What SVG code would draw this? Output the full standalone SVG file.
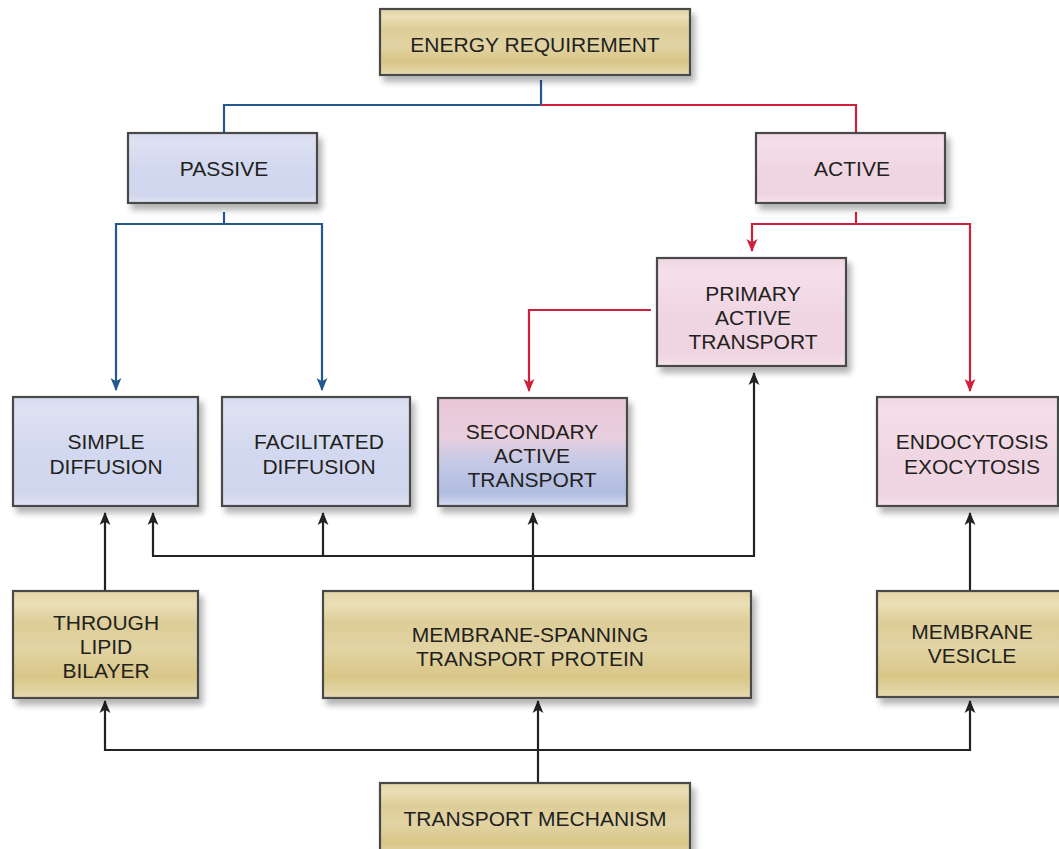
<svg xmlns="http://www.w3.org/2000/svg" width="1059" height="849" viewBox="0 0 1059 849">
<defs>
<style>
.box{stroke:#4a4a4a;stroke-width:2.2;filter:url(#sh)}
.tan{fill:url(#gTan)}
.blue{fill:url(#gBlue)}
.pink{fill:url(#gPink)}
.mix{fill:url(#gMix)}
text{font-family:"Liberation Sans",Arial,sans-serif;font-size:21px;fill:#231f20;text-anchor:middle}
.cb{fill:none;stroke:#25588f;stroke-width:2.2}
.cr{fill:none;stroke:#d1203c;stroke-width:2.2}
.ck{fill:none;stroke:#222;stroke-width:2.2}
</style>
<filter id="sh" x="-10%" y="-10%" width="125%" height="135%">
<feGaussianBlur in="SourceAlpha" stdDeviation="3"/>
<feOffset dx="4" dy="6" result="b"/>
<feComponentTransfer><feFuncA type="linear" slope="0.3"/></feComponentTransfer>
<feMerge><feMergeNode/><feMergeNode in="SourceGraphic"/></feMerge>
</filter>
<linearGradient id="gTan" x1="0" y1="0" x2="0" y2="1">
<stop offset="0" stop-color="#e2d4a6"/>
<stop offset="0.12" stop-color="#eadfb6"/>
<stop offset="0.3" stop-color="#ddcd98"/>
<stop offset="0.55" stop-color="#e1d3a3"/>
<stop offset="0.8" stop-color="#d9c687"/>
<stop offset="1" stop-color="#e6dab0"/>
</linearGradient>
<linearGradient id="gBlue" x1="0" y1="0" x2="0" y2="1">
<stop offset="0" stop-color="#d6dbef"/>
<stop offset="0.12" stop-color="#dde1f2"/>
<stop offset="0.5" stop-color="#d2d8ef"/>
<stop offset="0.88" stop-color="#d0d6ee"/>
<stop offset="1" stop-color="#dfe3f3"/>
</linearGradient>
<linearGradient id="gPink" x1="0" y1="0" x2="0" y2="1">
<stop offset="0" stop-color="#efd6e2"/>
<stop offset="0.12" stop-color="#f5e0ea"/>
<stop offset="0.5" stop-color="#f0d6e3"/>
<stop offset="0.88" stop-color="#efd4e1"/>
<stop offset="1" stop-color="#f6e2eb"/>
</linearGradient>
<linearGradient id="gMix" x1="0" y1="0" x2="0" y2="1">
<stop offset="0" stop-color="#e8c6d6"/>
<stop offset="0.35" stop-color="#e9cedd"/>
<stop offset="0.6" stop-color="#c4c9e6"/>
<stop offset="0.88" stop-color="#b0bce0"/>
<stop offset="1" stop-color="#d7dcf0"/>
</linearGradient>
<marker id="ab" markerUnits="userSpaceOnUse" markerWidth="13" markerHeight="13" viewBox="0 0 12 12" refX="11" refY="6" orient="auto">
<path d="M0,1 L12,6 L0,11 L3,6 z" fill="#25588f"/>
</marker>
<marker id="ar" markerUnits="userSpaceOnUse" markerWidth="13" markerHeight="13" viewBox="0 0 12 12" refX="11" refY="6" orient="auto">
<path d="M0,1 L12,6 L0,11 L3,6 z" fill="#d1203c"/>
</marker>
<marker id="ak" markerUnits="userSpaceOnUse" markerWidth="13" markerHeight="13" viewBox="0 0 12 12" refX="11" refY="6" orient="auto">
<path d="M0,1 L12,6 L0,11 L3,6 z" fill="#222"/>
</marker>
</defs>

<g id="connectors">
<path class="cb" d="M541,80 V105 H224 V133"/>
<path class="cr" d="M541,105 H856 V133"/>
<path class="cb" d="M224,212 V224 H116 V390" marker-end="url(#ab)"/>
<path class="cb" d="M224,224 H322 V390" marker-end="url(#ab)"/>
<path class="cr" d="M856,212 V224 H752 V251" marker-end="url(#ar)"/>
<path class="cr" d="M856,224 H970 V391" marker-end="url(#ar)"/>
<path class="cr" d="M651,310 H529 V391" marker-end="url(#ar)"/>
<path class="ck" d="M538,782 V750"/>
<path class="ck" d="M538,750 H105 V701" marker-end="url(#ak)"/>
<path class="ck" d="M538,750 H970 V701" marker-end="url(#ak)"/>
<path class="ck" d="M538,750 V701" marker-end="url(#ak)"/>
<path class="ck" d="M105,590 V513" marker-end="url(#ak)"/>
<path class="ck" d="M533,590 V513" marker-end="url(#ak)"/>
<path class="ck" d="M533,556 H153 V513" marker-end="url(#ak)"/>
<path class="ck" d="M323,556 V513" marker-end="url(#ak)"/>
<path class="ck" d="M533,556 H754 V373" marker-end="url(#ak)"/>
<path class="ck" d="M970,590 V513" marker-end="url(#ak)"/>
</g>

<g id="energy-requirement">
<rect class="box tan" x="380" y="9" width="310" height="66"/>
<text x="535" y="52">ENERGY REQUIREMENT</text>
</g>
<g id="passive">
<rect class="box blue" x="128" y="133" width="189" height="70"/>
<text x="224" y="176">PASSIVE</text>
</g>
<g id="active">
<rect class="box pink" x="756" y="133" width="189" height="70"/>
<text x="852" y="176">ACTIVE</text>
</g>
<g id="primary-active-transport">
<rect class="box pink" x="657" y="258" width="189" height="108"/>
<text x="753" y="301">PRIMARY</text>
<text x="753" y="325">ACTIVE</text>
<text x="753" y="349">TRANSPORT</text>
</g>
<g id="simple-diffusion">
<rect class="box blue" x="13" y="397" width="185" height="109"/>
<text x="106" y="449">SIMPLE</text>
<text x="106" y="474">DIFFUSION</text>
</g>
<g id="facilitated-diffusion">
<rect class="box blue" x="222" y="397" width="188" height="109"/>
<text x="319" y="449">FACILITATED</text>
<text x="319" y="474">DIFFUSION</text>
</g>
<g id="secondary-active-transport">
<rect class="box mix" x="438" y="398" width="189" height="108"/>
<text x="532" y="439">SECONDARY</text>
<text x="532" y="463">ACTIVE</text>
<text x="532" y="487">TRANSPORT</text>
</g>
<g id="endocytosis-exocytosis">
<rect class="box pink" x="877" y="397" width="181" height="109"/>
<text x="972" y="449">ENDOCYTOSIS</text>
<text x="972" y="474">EXOCYTOSIS</text>
</g>
<g id="through-lipid-bilayer">
<rect class="box tan" x="13" y="591" width="185" height="107"/>
<text x="106" y="630">THROUGH</text>
<text x="106" y="654">LIPID</text>
<text x="106" y="678">BILAYER</text>
</g>
<g id="membrane-spanning-transport-protein">
<rect class="box tan" x="323" y="591" width="428" height="107"/>
<text x="530" y="642">MEMBRANE-SPANNING</text>
<text x="530" y="666">TRANSPORT PROTEIN</text>
</g>
<g id="membrane-vesicle">
<rect class="box tan" x="877" y="591" width="190" height="106"/>
<text x="972" y="639">MEMBRANE</text>
<text x="972" y="663">VESICLE</text>
</g>
<g id="transport-mechanism">
<rect class="box tan" x="380" y="783" width="310" height="75"/>
<text x="535" y="826">TRANSPORT MECHANISM</text>
</g>
</svg>
